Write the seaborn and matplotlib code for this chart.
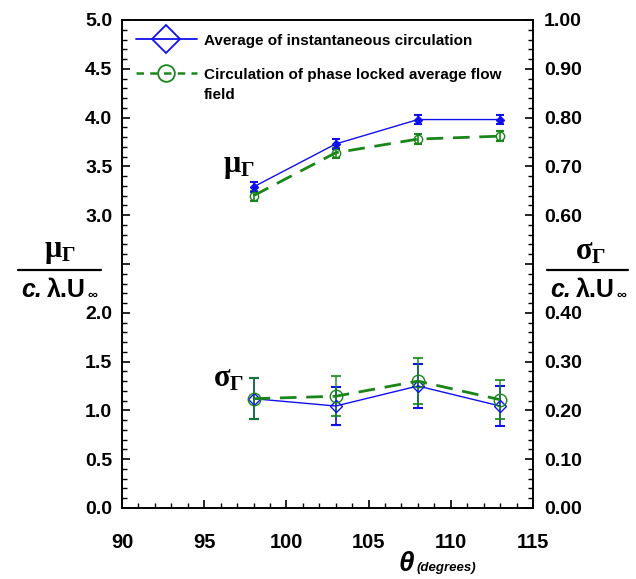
import numpy as np
import pandas as pd
import matplotlib
matplotlib.use("Agg")
import matplotlib.pyplot as plt
from matplotlib.ticker import MultipleLocator, FuncFormatter
from matplotlib.lines import Line2D
from matplotlib.text import Annotation
import seaborn as sns

theta = [98, 103, 108, 113]
mu_inst = [3.29, 3.73, 3.98, 3.98]
mu_inst_err = [0.05, 0.05, 0.05, 0.05]
mu_phase = [3.20, 3.64, 3.78, 3.81]
mu_phase_err = [0.05, 0.05, 0.05, 0.05]
sig_inst = [0.224, 0.209, 0.250, 0.209]
sig_inst_err = [0.042, 0.038, 0.046, 0.040]
sig_phase = [0.224, 0.229, 0.260, 0.222]
sig_phase_err = [0.042, 0.041, 0.047, 0.040]
series_names = ["Average of instantaneous circulation",
                "Circulation of phase locked average flow\nfield"]

sns.set_theme(style="ticks")
plt.rcParams['font.family'] = ['Liberation Sans', 'DejaVu Sans']
plt.rcParams['font.weight'] = 'bold'
plt.rcParams['mathtext.fontset'] = 'custom'
plt.rcParams['mathtext.rm'] = 'Liberation Serif:bold'
plt.rcParams['mathtext.it'] = 'Liberation Serif:bold'
plt.rcParams['mathtext.bf'] = 'Liberation Serif:bold'
for k in ['text.color', 'axes.labelcolor', 'xtick.color', 'ytick.color', 'axes.edgecolor']:
    plt.rcParams[k] = 'black'

BLUE = '#1010ee'
GREEN = '#1a861a'

fig = plt.figure(figsize=(6.36, 5.79), dpi=100)
ax = fig.add_axes([122/636, 1-508/579, (533-122)/636, (508-20)/579])
ax2 = ax.twinx()

df_mu = pd.DataFrame({"theta": theta * 2,
                      "val": mu_inst + mu_phase,
                      "series": [series_names[0]] * 4 + [series_names[1]] * 4})
df_sig = pd.DataFrame({"theta": theta * 2,
                       "val": sig_inst + sig_phase,
                       "series": [series_names[0]] * 4 + [series_names[1]] * 4})

# error bars
ax.errorbar(theta, mu_phase, yerr=mu_phase_err, fmt='none', ecolor=GREEN, elinewidth=1.2, capsize=3, capthick=1.5, zorder=2)
ax.errorbar(theta, mu_inst, yerr=mu_inst_err, fmt='none', ecolor=BLUE, elinewidth=1.2, capsize=3, capthick=1.5, zorder=3)
ax2.errorbar(theta, sig_inst, yerr=sig_inst_err, fmt='none', ecolor=BLUE, elinewidth=1.2, capsize=3.5, capthick=1.5, zorder=2)
ax2.errorbar(theta, sig_phase, yerr=sig_phase_err, fmt='none', ecolor=GREEN, elinewidth=1.2, capsize=3.5, capthick=1.5, zorder=3, alpha=0.85)

def draw(axx, df, ms_d, ms_c, fill_d):
    d = df[df.series == series_names[0]]
    sns.lineplot(data=d, x="theta", y="val", ax=axx, color=BLUE, lw=1.0, marker='D',
                 markersize=ms_d, markerfacecolor=(BLUE if fill_d else 'none'),
                 markeredgecolor=BLUE, markeredgewidth=1.0, legend=False, zorder=4)
    g = df[df.series == series_names[1]]
    sns.lineplot(data=g, x="theta", y="val", ax=axx, color=GREEN, lw=2.0, marker='o',
                 markersize=ms_c, markerfacecolor='none', markeredgecolor=GREEN,
                 markeredgewidth=1.0, legend=False, zorder=4, dashes=False, linestyle=(0, (6, 3.5)))

draw(ax, df_mu, 4, 6, True)
draw(ax2, df_sig, 6, 9, False)

ax.set_xlim(90, 115)
ax.set_ylim(0, 5)
ax2.set_ylim(0, 1)
for a in (ax, ax2):
    a.set_xlabel("")
    a.set_ylabel("")

ax.xaxis.set_major_locator(MultipleLocator(5))
ax.xaxis.set_minor_locator(MultipleLocator(1))
ax.yaxis.set_major_locator(MultipleLocator(0.5))
ax.yaxis.set_minor_locator(MultipleLocator(0.1))
ax2.yaxis.set_major_locator(MultipleLocator(0.1))
ax2.yaxis.set_minor_locator(MultipleLocator(0.02))

ax.yaxis.set_major_formatter(FuncFormatter(lambda v, p: "" if abs(v - 2.5) < 1e-6 else f"{v:.1f}"))
ax2.yaxis.set_major_formatter(FuncFormatter(lambda v, p: "" if abs(v - 0.5) < 1e-6 else f"{v:.2f}"))

for a in (ax, ax2):
    a.tick_params(which='major', direction='in', length=6, width=1.2, labelsize=14)
    a.tick_params(which='minor', direction='in', length=3.5, width=1.0)
    for s in a.spines.values():
        s.set_visible(True)
        s.set_linewidth(1.2)
        s.set_color('black')
ax.tick_params(axis='x', pad=18, labelsize=14.5)
ax.tick_params(axis='y', pad=7)
ax2.tick_params(axis='y', pad=8)
ax.tick_params(axis='y', which='both', right=False)
for lab in ax.get_xticklabels() + ax.get_yticklabels() + ax2.get_yticklabels():
    lab.set_fontweight('bold')

# legend
first_line, second_line = series_names[1].split("\n")
handles = [Line2D([0], [0], color=BLUE, lw=1.3, marker='D', markersize=14,
                  markerfacecolor='none', markeredgecolor=BLUE, markeredgewidth=1.3),
           Line2D([0], [0], color=GREEN, lw=1.8, linestyle=(0, (3, 2.5)), marker='o', markersize=12,
                  markerfacecolor='none', markeredgecolor=GREEN, markeredgewidth=1.3)]
leg = ax.legend(handles, [series_names[0], first_line], loc='upper left', bbox_to_anchor=(0.0, 1.0),
                frameon=False, handlelength=4.0, prop={'weight': 'bold', 'size': 11},
                borderaxespad=0.5, labelspacing=1.3, handletextpad=0.45)
fig.canvas.draw()
t = leg.get_texts()[1]
bb = t.get_window_extent()
fig.text(bb.x0 / fig.bbox.width, (bb.y0 - 20) / fig.bbox.height, second_line,
         fontsize=11, weight='bold', ha='left', va='bottom')

# annotations in plot
ax.text(98.05, 3.50, r'$\mu_\Gamma$', fontsize=22, ha='right', va='center')
ax.text(97.4, 1.33, r'$\sigma_\Gamma$', fontsize=22, ha='right', va='center')

def px(x, y):
    return x/636, 1 - y/579

def ylabel_block(xc, xl, xr, top_txt):
    fig.text(*px(xc, 251), top_txt, fontsize=22, ha='center', va='center')
    fig.add_artist(Line2D([xl/636, xr/636], [1-270/579, 1-270/579], color='black', lw=1.6))
    fig.text(*px(xl + 3, 290), 'c.', fontsize=18, style='italic', weight='bold', ha='left', va='center')
    t2 = fig.text(*px(xl + 29, 290), 'λ.U', fontsize=18, weight='bold', ha='left', va='center')
    a = Annotation('∞', xy=(1, 0.0), xycoords=t2, xytext=(1, 0), textcoords='offset points',
                   fontsize=10, weight='bold', ha='left', va='bottom')
    fig.add_artist(a)

ylabel_block(60, 18, 101, r'$\mu_\Gamma$')
ylabel_block(590, 547, 628, r'$\sigma_\Gamma$')

# x label
fig.text(*px(406, 564), 'θ', fontsize=20, style='italic', weight='bold', ha='center', va='center')
fig.text(*px(417, 568), '(degrees)', fontsize=9.5, style='italic', weight='bold', ha='left', va='center')

fig.savefig("out.png", dpi=100)
